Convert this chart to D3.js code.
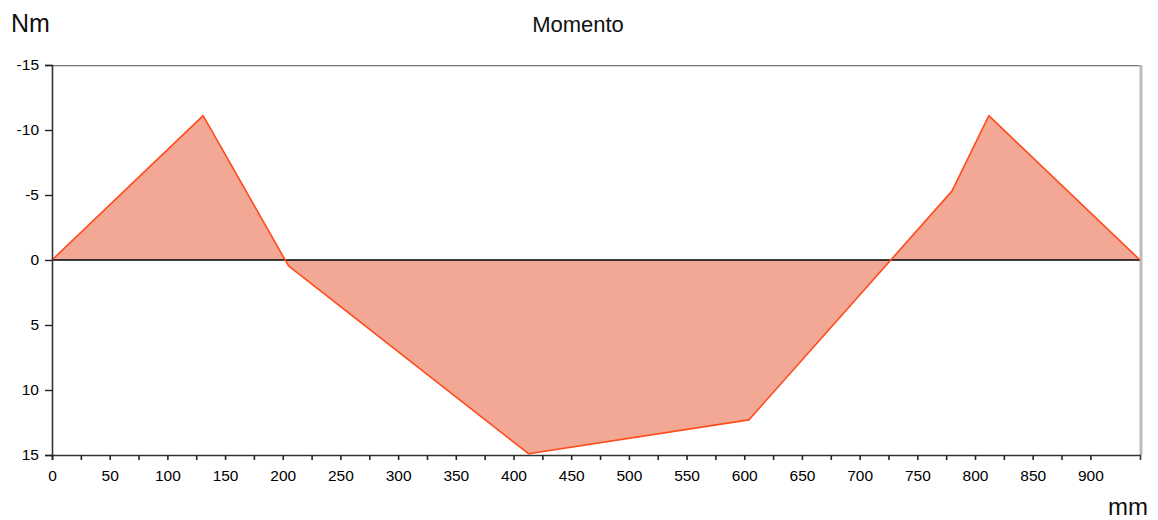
<!DOCTYPE html>
<html>
<head>
<meta charset="utf-8">
<script src="https://cdn.jsdelivr.net/npm/d3@7"></script>
<style>
  html, body { margin: 0; padding: 0; background: #fff; }
  svg { display: block; font-family: "Liberation Sans", Arial, sans-serif; }
</style>
</head>
<body>
<svg id="chart" width="1158" height="520"></svg>
<script>
// Bending moment along the beam (position in mm, moment in Nm)
const positions = [0, 131, 205, 413, 604, 780, 812, 943];
const moments   = [0, -11.1, 0.45, 14.9, 12.3, -5.3, -11.1, 0];
const xTicks = d3.range(0, 925, 25);
const xLabels = d3.range(0, 901, 50);
const yTicks = [-15, -10, -5, 0, 5, 10, 15];

const svg = d3.select("#chart");
const plotLeft = 52, plotRight = 1140, plotTop = 65, plotBottom = 455;
const font = "Liberation Sans, Arial, sans-serif";

const x = d3.scaleLinear().domain([0, 943]).range([plotLeft, plotRight]);
const y = d3.scaleLinear().domain([-15, 15]).range([plotTop, plotBottom]);

const data = positions.map((p, i) => ({ p, m: moments[i] }));

// filled area between the curve and the zero line
svg.append("path")
  .datum(data)
  .attr("fill", "#f2a894")
  .attr("d", d3.area().x(d => x(d.p)).y0(y(0)).y1(d => y(d.m)));

// frame: top and right borders
svg.append("line").attr("x1", plotLeft).attr("x2", plotRight).attr("y1", plotTop + 0.5).attr("y2", plotTop + 0.5)
  .attr("stroke", "#777").attr("stroke-width", 1);
svg.append("line").attr("x1", plotLeft).attr("x2", plotRight).attr("y1", plotTop + 1.5).attr("y2", plotTop + 1.5)
  .attr("stroke", "#d8d8d8").attr("stroke-width", 1);
svg.append("line").attr("x1", plotRight + 1).attr("x2", plotRight + 1).attr("y1", plotTop).attr("y2", plotBottom)
  .attr("stroke", "#bcbcbc").attr("stroke-width", 3);

// zero line
svg.append("line").attr("x1", plotLeft).attr("x2", plotRight).attr("y1", y(0)).attr("y2", y(0))
  .attr("stroke", "#000").attr("stroke-width", 1.4);

// moment curve
svg.append("path")
  .datum(data)
  .attr("fill", "none")
  .attr("stroke", "#ff4b1c")
  .attr("stroke-width", 1.6)
  .attr("stroke-linejoin", "round")
  .attr("d", d3.line().x(d => x(d.p)).y(d => y(d.m)));

// y axis (plain hyphen for negatives)
const yAxis = svg.append("g").attr("transform", `translate(${plotLeft},0)`)
  .call(d3.axisLeft(y).tickValues(yTicks).tickSize(7).tickPadding(6).tickFormat(d => String(d)));
yAxis.select(".domain").attr("stroke", "#333").attr("stroke-width", 1.6);
yAxis.selectAll(".tick line").attr("stroke", "#222").attr("stroke-width", 1.4);
yAxis.selectAll("text").attr("font-size", 15.5).attr("fill", "#000").attr("font-family", font);

// x axis: ticks every 25 mm, labels every 50 mm
const xAxis = svg.append("g").attr("transform", `translate(0,${plotBottom})`)
  .call(d3.axisBottom(x).tickValues(xTicks).tickSize(5).tickPadding(10)
    .tickFormat(d => xLabels.includes(d) ? d : ""));
xAxis.select(".domain").attr("stroke", "#333").attr("stroke-width", 1.6);
xAxis.selectAll(".tick line").attr("stroke", "#222").attr("stroke-width", 1.6);
xAxis.selectAll("text").attr("font-size", 15.5).attr("fill", "#000").attr("font-family", font);

// titles
svg.append("text").attr("x", 578).attr("y", 32).attr("text-anchor", "middle")
  .attr("font-size", 22).attr("fill", "#111").attr("font-family", font).text("Momento");
svg.append("text").attr("x", 11).attr("y", 32)
  .attr("font-size", 25).attr("fill", "#111").attr("font-family", font).text("Nm");
svg.append("text").attr("x", 1148).attr("y", 515).attr("text-anchor", "end")
  .attr("font-size", 24).attr("fill", "#111").attr("font-family", font).text("mm");
</script>
</body>
</html>
